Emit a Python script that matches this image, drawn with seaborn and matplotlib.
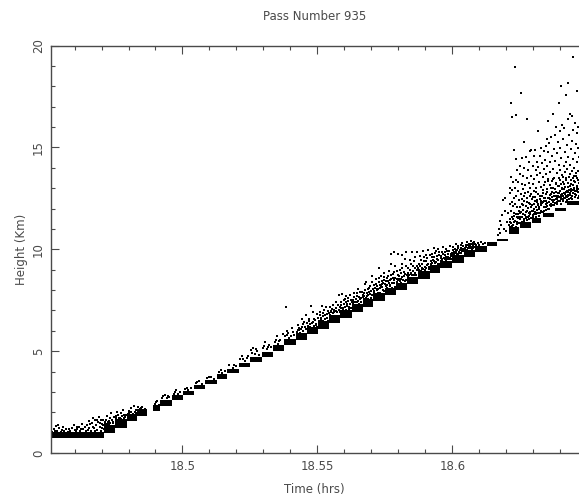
# Pass 935 height vs time
import numpy as np
import pandas as pd
import matplotlib
matplotlib.use('Agg')
import matplotlib.pyplot as plt
import seaborn as sns
from matplotlib.ticker import MultipleLocator, FixedLocator

# times below are hours minus 18
# step plateaus: start, end, lowest height, highest height
step_start = [.451,.4709,.4750,.4794,.4831,.4890,.4916,.4961,.5002,.5042,.5083,.5128,.5165,.5209,.5250,.5294,.5335,.5376,.5420,.5461,.5502,.5542,.5583,.5628,.5668,.5705,.5750,.5791,.5831,.5872,.5917,.5954,.5998,.6043,.6083,.6128,.6165,.6209,.6250,.6294,.6335,.6380,.6424]
step_end = [.4709,.4750,.4794,.4831,.4868,.4916,.4961,.5002,.5042,.5083,.5128,.5165,.5209,.5250,.5294,.5335,.5376,.5420,.5461,.5502,.5542,.5583,.5628,.5668,.5705,.5750,.5791,.5831,.5872,.5917,.5954,.5998,.6043,.6083,.6128,.6165,.6205,.6245,.6290,.6330,.6375,.6420,.6469]
step_low = [.72,1.0,1.25,1.55,1.82,2.04,2.33,2.62,2.87,3.12,3.4,3.65,3.95,4.2,4.48,4.72,5.0,5.28,5.55,5.84,6.09,6.38,6.63,6.92,7.17,7.45,7.74,8.0,8.28,8.54,8.83,9.08,9.33,9.62,9.87,10.18,10.42,10.76,11.05,11.3,11.6,11.86,12.18]
step_high = [1.02,1.36,1.68,1.9,2.14,2.36,2.62,2.85,3.06,3.34,3.6,3.88,4.13,4.42,4.72,4.98,5.28,5.6,5.9,6.2,6.5,6.78,7.02,7.3,7.56,7.84,8.12,8.36,8.64,8.94,9.22,9.42,9.7,9.95,10.16,10.36,10.52,11.08,11.34,11.54,11.78,12.04,12.38]

low_points = [(.4518,1.05),(.4525,1.2),(.4531,1.32),(.4536,1.1),(.4542,1.24),(.4549,1.05),(.4553,1.15),(.4561,1.08),(.4568,1.18),(.4574,1.05),(.4585,1.1),(.4592,1.22),(.4598,1.38),(.4604,1.09),(.4611,1.18),(.4617,1.3),(.4622,1.06),(.4629,1.42),(.4633,1.2),(.4641,1.1),(.4646,1.36),(.4652,1.55),(.4655,1.25),(.4661,1.08),(.4664,1.46),(.4668,1.7),(.4672,1.22),(.4677,1.62),(.4681,1.35),(.4684,1.12),(.4688,1.5),(.4691,1.75),(.4694,1.28),(.4698,1.08),(.4702,1.44),(.4705,1.64),(.4708,1.2),(.4712,1.4),(.4716,1.6),(.4719,1.82),(.4723,1.5),(.4727,1.4),(.4731,1.7),(.4736,1.95),(.4741,1.52),(.4746,1.78),(.4752,1.7),(.4757,2.02),(.4762,1.85),(.4768,1.74),(.4773,1.95),(.4778,2.1),(.4785,1.7),(.4791,1.88),(.4798,1.9),(.4803,2.05),(.4808,2.2),(.4814,1.86),(.4819,2.3),(.4824,2.0),(.4829,2.12),(.4838,2.12),(.4846,2.2),(.4853,2.12),(.4898,2.42),(.4906,2.55),(.4912,2.36),(.4925,2.7),(.4934,2.85),(.4942,2.68),(.4951,2.75),(.4968,2.92),(.4975,3.1),(.4983,2.9),(.4992,3.0),(.5011,3.12),(.5022,3.08),(.5031,3.2),(.5051,3.42),(.5063,3.55),(.5072,3.4),(.5092,3.66),(.5105,3.75),(.5118,3.64),(.5136,4.0),(.5148,3.95),(.5156,4.02),(.5173,4.3),(.5186,4.18),(.5198,4.25),(.5214,4.62),(.5221,4.78),(.5233,4.5),(.5242,4.75),(.5255,5.05),(.5262,5.15),(.5268,4.85),(.5275,5.0),(.5283,4.8),(.5299,5.15),(.5306,5.45),(.5314,5.1),(.5322,5.32),(.5328,5.2),(.5342,5.45),(.5349,5.72),(.5355,5.35),(.5363,5.55),(.5371,5.82),(.5382,7.15),(.5381,5.75),(.5388,6.0),(.5396,5.65),(.5404,6.15),(.5413,5.8)]

low_extra = [(.4527,1.08),(.4539,1.35),(.4557,1.26),(.4579,1.2),(.4601,1.15),(.4609,1.3),(.4625,1.18),(.4637,1.3),(.4649,1.15),(.4658,1.42),(.4667,1.28),(.4675,1.1),(.4683,1.6),(.4693,1.45),(.4697,1.6),(.4701,1.25),(.4706,1.35),(.4714,1.5),(.4721,1.42),(.4729,1.55),(.4733,1.46),(.4739,1.62),(.4744,1.45),(.4755,1.8),(.4765,1.72),(.4771,1.66),(.4776,1.8),(.4783,1.88),(.4788,1.75),(.4801,1.95),(.4811,2.02),(.4817,1.92),(.4826,1.94),(.4835,2.25),(.4841,2.18),(.4851,2.25),(.4862,2.18),(.4901,2.48),(.4929,2.78),(.4947,2.8),(.4972,3.0),(.5016,3.2),(.5055,3.5),(.5098,3.72),(.5141,4.05),(.5192,4.32),(.5226,4.6),(.5238,4.68),(.5259,4.92),(.5271,5.1),(.5303,5.25),(.5318,5.22),(.5346,5.55),(.5359,5.48),(.5386,5.78),(.5392,5.9),(.5402,5.75),(.5409,5.95)]

band_points = [(.5424,5.95),(.5428,6.3),(.5433,6.05),(.5437,5.9),(.5441,6.6),(.5444,6.2),(.5448,6.0),(.5452,6.45),(.5456,6.75),(.5458,6.1),(.5465,6.25),(.5469,6.6),(.5472,6.2),(.5476,7.2),(.5479,6.4),(.5482,6.9),(.5486,6.25),(.5489,6.6),(.5493,6.35),(.5497,6.8),(.5499,6.2),(.5505,6.5),(.5508,6.9),(.5512,6.55),(.5516,7.2),(.5519,6.7),(.5522,6.48),(.5526,7.0),(.5529,6.6),(.5533,7.15),(.5537,6.8),(.5540,6.5),(.5545,6.75),(.5548,7.15),(.5551,6.9),(.5554,6.55),(.5558,7.25),(.5561,7.0),(.5564,6.72),(.5567,7.4),(.5570,6.95),(.5573,6.65),(.5577,7.25),(.5580,7.75),(.5583,6.9),(.5586,7.1),(.5589,7.4),(.5592,7.8),(.5595,7.05),(.5598,7.3),(.5601,7.55),(.5604,7.0),(.5607,7.7),(.5610,7.2),(.5613,7.45),(.5616,7.05),(.5619,7.3),(.5622,7.75),(.5625,7.1),(.5631,7.3),(.5634,7.65),(.5637,7.85),(.5640,7.4),(.5643,7.25),(.5646,7.7),(.5649,8.05),(.5652,7.45),(.5655,7.3),(.5658,7.9),(.5661,7.6),(.5664,7.25),(.5667,7.75),(.5671,7.55),(.5674,7.85),(.5677,8.3),(.5680,7.5),(.5680,8.37),(.5683,7.7),(.5686,8.05),(.5689,7.55),(.5692,7.9),(.5695,8.2),(.5698,7.6),(.5702,8.68),(.5702,7.75),(.5708,7.9),(.5711,8.25),(.5714,7.8),(.5717,8.55),(.5720,8.05),(.5723,7.85),(.5727,9.07),(.5727,8.4),(.5730,8.1),(.5733,7.85),(.5736,8.7),(.5739,8.3),(.5742,8.0),(.5745,8.5),(.5748,8.85),(.5748,7.95),(.5753,8.2),(.5756,8.6),(.5759,8.1),(.5762,8.45),(.5765,8.95),(.5768,8.25),(.5771,9.3),(.5773,9.75),(.5774,8.55),(.5777,8.1),(.5780,8.8),(.5783,8.35),(.5785,9.85),(.5786,8.15),(.5789,9.2),(.5794,8.4),(.5797,8.75),(.5797,9.76),(.5800,8.3),(.5803,8.55),(.5806,9.0),(.5809,8.35),(.5812,9.3),(.5815,8.65),(.5815,9.7),(.5818,8.3),(.5821,8.9),(.5824,9.5),(.5827,8.5),(.5829,8.25),(.5829,9.85),(.5834,8.65),(.5837,9.1),(.5840,8.6),(.5843,9.45),(.5846,8.85),(.5849,9.85),(.5852,8.6),(.5855,9.2),(.5858,8.75),(.5861,9.6),(.5864,8.55),(.5867,9.0),(.5870,9.85),(.5875,8.9),(.5878,9.3),(.5881,9.65),(.5884,8.95),(.5887,9.1),(.5890,9.9),(.5893,8.9),(.5896,9.4),(.5899,9.0),(.5902,9.7),(.5905,9.25),(.5908,8.9),(.5911,9.95),(.5914,9.15),(.5921,9.3),(.5924,9.6),(.5927,9.2),(.5930,10.05),(.5933,9.4),(.5936,9.8),(.5939,9.15),(.5942,9.5),(.5945,10.0),(.5948,9.3),(.5951,9.7),(.5957,9.4),(.5960,9.85),(.5963,9.5),(.5966,10.1),(.5969,9.35),(.5972,9.7),(.5975,10.0),(.5978,9.45),(.5981,9.9),(.5984,9.6),(.5987,9.35),(.5990,10.15),(.5993,9.75),(.5996,9.5),(.6001,9.7),(.6004,10.1),(.6007,9.85),(.6010,9.65),(.6013,10.25),(.6016,9.95),(.6019,9.7),(.6022,10.15),(.6025,9.8),(.6028,9.65),(.6031,10.05),(.6034,10.3),(.6037,9.9),(.6040,10.15),(.6046,9.95),(.6049,10.2),(.6052,9.9),(.6055,10.35),(.6058,10.05),(.6061,10.25),(.6064,9.9),(.6067,10.15),(.6070,10.4),(.6073,10.0),(.6076,10.3),(.6079,10.1),(.6082,10.25),(.6088,10.2),(.6094,10.3),(.6100,10.2),(.6107,10.35),(.6114,10.25),(.6122,10.3)]

# second pass along the band, filling the thick part just over the steps
band_extra = [(.5427,6.02),(.5431,6.14),(.5439,6.1),(.5446,6.33),(.5454,6.2),(.5463,6.4),(.5467,6.5),(.5474,6.33),(.5484,6.45),(.5491,6.52),(.5495,6.28),(.5503,6.63),(.5510,6.75),(.5514,6.62),(.5521,6.85),(.5528,6.78),(.5535,6.63),(.5539,6.95),(.5544,6.88),(.5549,6.97),(.5553,7.05),(.5559,6.86),(.5563,6.93),(.5569,7.1),(.5574,6.9),(.5578,7.02),(.5584,7.18),(.5588,7.24),(.5593,7.13),(.5597,7.5),(.5603,7.17),(.5606,7.42),(.5611,7.33),(.5615,7.6),(.5618,7.18),(.5623,7.5),(.5629,7.4),(.5633,7.52),(.5636,7.42),(.5641,7.58),(.5645,7.4),(.5648,7.85),(.5653,7.65),(.5656,7.55),(.5662,7.42),(.5665,7.9),(.5669,7.66),(.5673,7.7),(.5676,8.0),(.5679,7.62),(.5684,7.85),(.5687,7.74),(.5691,8.1),(.5694,7.8),(.5699,7.95),(.5703,8.4),(.5707,8.05),(.5710,7.96),(.5713,8.12),(.5716,8.3),(.5719,8.0),(.5722,8.2),(.5725,8.05),(.5729,8.6),(.5732,8.25),(.5735,8.18),(.5738,8.45),(.5741,8.15),(.5744,8.32),(.5747,8.62),(.5752,8.3),(.5755,8.44),(.5758,8.24),(.5761,8.7),(.5764,8.36),(.5767,8.5),(.5770,8.22),(.5772,8.75),(.5776,8.32),(.5779,8.58),(.5782,8.48),(.5784,8.9),(.5788,8.6),(.5793,8.52),(.5796,8.92),(.5799,8.47),(.5802,8.7),(.5805,8.44),(.5808,8.82),(.5811,8.55),(.5814,9.1),(.5817,8.47),(.5820,8.68),(.5823,8.78),(.5826,8.43),(.5828,9.2),(.5833,8.74),(.5836,8.85),(.5839,8.72),(.5842,9.0),(.5845,8.78),(.5848,9.3),(.5851,8.73),(.5854,8.95),(.5857,9.4),(.5860,8.85),(.5863,9.1),(.5866,8.72),(.5869,9.2),(.5874,9.08),(.5877,8.99),(.5880,9.2),(.5883,9.45),(.5886,9.05),(.5889,9.3),(.5892,9.02),(.5895,9.6),(.5898,9.15),(.5901,9.42),(.5904,9.08),(.5907,9.55),(.5910,9.3),(.5913,9.02),(.5916,9.7),(.5920,9.4),(.5923,9.32),(.5926,9.75),(.5929,9.48),(.5932,9.6),(.5935,9.33),(.5938,9.9),(.5941,9.38),(.5944,9.65),(.5947,9.46),(.5950,9.85),(.5953,9.3),(.5956,9.55),(.5959,9.65),(.5962,9.44),(.5965,9.75),(.5968,9.58),(.5971,9.5),(.5974,9.85),(.5977,9.62),(.5980,9.5),(.5983,9.78),(.5986,9.5),(.5989,9.92),(.5992,9.58),(.5995,9.66),(.6000,9.82),(.6003,9.95),(.6006,9.76),(.6009,10.0),(.6012,9.8),(.6015,9.9),(.6018,9.78),(.6021,10.05),(.6024,9.88),(.6027,9.96),(.6030,9.83),(.6033,10.2),(.6036,9.95),(.6039,10.02),(.6042,9.9),(.6045,10.08),(.6048,10.0),(.6051,10.12),(.6054,9.98),(.6057,10.22),(.6060,10.08),(.6063,10.16),(.6066,10.05),(.6069,10.28),(.6072,10.12),(.6075,10.2),(.6078,10.05),(.6081,10.35)]

# cloud above the steps after 18.615
cloud_points = [(.6168,10.7),(.6172,11.0),(.6175,11.4),(.6178,10.8),(.6181,11.2),(.6184,11.7),(.6187,12.4),(.6190,11.0),(.6193,11.9),(.6196,12.5),(.6199,10.9),(.6203,11.35),(.6207,11.8),(.6210,11.2),(.6212,12.2),(.6213,13.0),(.6214,11.5),(.6215,12.75),(.6216,17.2),(.6217,11.9),(.6217,13.55),(.6219,16.5),(.6219,12.3),(.6220,11.15),(.6222,12.9),(.6222,11.6),(.6224,13.3),(.6225,12.1),(.6226,11.2),(.6228,14.85),(.6228,12.5),(.6229,11.8),(.6231,18.93),(.6231,13.0),(.6232,11.4),(.6233,12.2),(.6235,14.45),(.6235,11.75),(.6236,13.4),(.6237,16.6),(.6237,12.6),(.6239,11.25),(.6240,12.05),(.6241,13.9),(.6242,11.55),(.6243,12.85),(.6244,13.3),(.6245,11.3),(.6247,11.9),(.6248,12.4),(.6249,13.7),(.6250,14.1),(.6252,11.5),(.6253,12.7),(.6254,17.65),(.6254,11.85),(.6256,13.2),(.6257,12.2),(.6258,14.5),(.6259,11.6),(.6260,12.95),(.6261,11.95),(.6263,13.6),(.6264,12.35),(.6265,15.25),(.6265,11.5),(.6266,14.0),(.6268,12.75),(.6269,11.7),(.6270,13.15),(.6271,12.1),(.6272,14.55),(.6274,11.55),(.6275,13.5),(.6276,12.5),(.6277,16.4),(.6277,11.9),(.6279,13.9),(.6280,12.8),(.6281,11.6),(.6282,14.3),(.6283,12.25),(.6284,13.25),(.6286,11.75),(.6287,12.6),(.6288,14.8),(.6289,13.0),(.6290,11.55),(.6291,14.85),(.6292,12.05),(.6293,13.6),(.6295,11.9),(.6296,12.45),(.6297,14.1),(.6298,13.2),(.6299,11.7),(.6301,12.85),(.6302,14.6),(.6303,12.2),(.6304,13.45),(.6305,11.85),(.6306,14.85),(.6307,12.55),(.6309,13.9),(.6310,11.75),(.6311,13.0),(.6312,14.3),(.6313,12.3),(.6314,11.95),(.6315,13.65),(.6316,15.8),(.6317,12.7),(.6318,14.05),(.6320,12.0),(.6321,13.3),(.6322,11.8),(.6323,14.6),(.6324,12.45),(.6325,13.75),(.6327,12.15),(.6328,14.95),(.6329,11.9),(.6330,13.05),(.6331,12.6),(.6332,14.25),(.6333,12.25),(.6335,13.55),(.6336,11.85),(.6337,12.9),(.6338,14.8),(.6339,12.35),(.6340,13.95),(.6342,12.05),(.6343,13.3),(.6344,14.4),(.6345,12.7),(.6346,11.95),(.6347,15.05),(.6348,13.7),(.6349,15.4),(.6350,12.25),(.6351,14.1),(.6352,12.95),(.6353,16.3),(.6354,12.0),(.6355,13.45),(.6356,14.75),(.6358,12.5),(.6359,15.2),(.6360,13.15),(.6361,12.15),(.6362,14.3),(.6363,13.8),(.6365,12.7),(.6366,12.1),(.6367,15.5),(.6368,13.35),(.6369,14.6),(.6370,12.4),(.6371,16.65),(.6372,13.0),(.6373,12.15),(.6374,13.95),(.6376,14.9),(.6377,12.6),(.6378,13.5),(.6379,15.6),(.6380,12.25),(.6381,14.35),(.6382,13.2),(.6384,12.8),(.6385,16.0),(.6386,12.3),(.6387,13.75),(.6388,14.7),(.6389,12.55),(.6390,13.1),(.6391,15.25),(.6392,12.35),(.6394,14.15),(.6395,17.2),(.6395,13.5),(.6396,12.75),(.6397,15.8),(.6398,12.35),(.6399,13.9),(.6400,14.95),(.6402,18.0),(.6402,13.2),(.6403,12.55),(.6404,14.5),(.6405,12.95),(.6406,16.1),(.6407,13.65),(.6408,12.45),(.6410,15.4),(.6411,13.3),(.6412,14.1),(.6413,12.75),(.6414,15.95),(.6415,12.5),(.6416,13.8),(.6417,14.75),(.6418,13.05),(.6420,12.6),(.6421,17.55),(.6421,14.3),(.6422,13.5),(.6423,15.1),(.6425,12.85),(.6426,13.95),(.6427,16.4),(.6428,18.14),(.6428,12.6),(.6429,14.55),(.6430,13.25),(.6431,15.6),(.6433,12.9),(.6434,13.7),(.6435,16.65),(.6436,14.15),(.6437,12.65),(.6438,14.9),(.6439,13.4),(.6440,12.95),(.6442,15.3),(.6443,13.85),(.6444,16.55),(.6445,12.75),(.6446,19.46),(.6446,14.45),(.6447,13.15),(.6448,15.85),(.6449,13.6),(.6451,12.9),(.6452,14.0),(.6453,16.2),(.6454,13.3),(.6455,14.7),(.6456,12.85),(.6457,15.15),(.6458,13.75),(.6460,17.75),(.6460,13.05),(.6461,14.3),(.6462,15.7),(.6463,13.5),(.6464,12.95),(.6465,14.95),(.6466,13.85),(.6467,16.0),(.6468,13.25),(.6468,14.55)]

# dots bunched low inside the cloud
cloud_dense = [(.6212,11.1),(.6218,11.3),(.6221,11.05),(.6227,11.35),(.6234,11.1),(.6238,11.6),(.6241,11.35),(.6246,11.6),(.6251,11.3),(.6255,11.6),(.6258,11.35),(.6262,11.75),(.6267,11.4),(.6273,11.6),(.6278,11.45),(.6282,11.8),(.6285,11.5),(.6289,11.85),(.6294,11.55),(.6298,11.9),(.6300,11.6),(.6304,12.0),(.6308,11.6),(.6313,11.8),(.6316,12.15),(.6319,11.65),(.6322,12.05),(.6326,11.8),(.6329,12.25),(.6333,11.85),(.6337,12.3),(.6340,11.9),(.6341,12.5),(.6345,12.05),(.6348,12.35),(.6352,12.1),(.6355,12.5),(.6357,12.0),(.6361,12.65),(.6364,12.2),(.6368,12.55),(.6372,12.3),(.6375,12.75),(.6378,12.15),(.6383,12.45),(.6387,12.2),(.6390,12.6),(.6393,12.35),(.6397,12.85),(.6401,12.45),(.6404,12.2),(.6407,12.7),(.6409,12.35),(.6413,12.95),(.6416,12.5),(.6419,12.3),(.6422,12.8),(.6426,12.4),(.6429,12.65),(.6432,12.45),(.6435,13.1),(.6438,12.5),(.6441,12.85),(.6444,12.45),(.6447,12.75),(.6450,13.0),(.6453,12.55),(.6456,13.3),(.6459,12.65),(.6462,12.95),(.6465,12.5),(.6467,12.8)]

cloud_extra = [(.6214,11.32),(.6223,11.48),(.6230,11.62),(.6243,11.72),(.6249,12.05),(.6251,11.78),(.6256,12.45),(.6262,12.15),(.6266,12.62),(.6271,11.85),(.6275,12.3),(.6279,12.02),(.6283,11.62),(.6288,12.2),(.6291,12.72),(.6295,12.18),(.6300,12.55),(.6303,11.72),(.6306,12.35),(.6309,12.08),(.6311,12.82),(.6315,12.42),(.6318,12.22),(.6323,12.62),(.6327,13.05),(.6330,12.38),(.6334,12.75),(.6338,12.05),(.6341,13.15),(.6344,12.52),(.6347,12.2),(.6351,12.82),(.6354,13.35),(.6358,12.3),(.6360,12.68),(.6363,12.45),(.6366,13.02),(.6369,12.8),(.6373,13.45),(.6376,12.42),(.6379,12.95),(.6382,12.62),(.6385,13.25),(.6388,12.45),(.6391,12.78),(.6394,13.12),(.6396,12.55),(.6399,13.42),(.6402,12.68),(.6406,13.0),(.6408,13.55),(.6411,12.62),(.6414,13.18),(.6417,12.72),(.6420,13.4),(.6423,12.55),(.6427,13.05),(.6430,12.82),(.6433,13.55),(.6436,12.75),(.6439,13.2),(.6442,12.6),(.6445,13.48),(.6448,12.9),(.6451,13.35),(.6454,12.7),(.6457,13.58),(.6460,12.85),(.6463,13.12),(.6466,13.42),(.6468,12.62)]

x_major = [18.5, 18.55, 18.6]
x_labels = ['18.5', '18.55', '18.6']
y_major = [0, 5, 10, 15, 20]

all_points = low_points + low_extra + band_points + band_extra + cloud_points + cloud_dense + cloud_extra
df = pd.DataFrame(all_points, columns=['offset', 'height'])
df['time'] = 18 + df['offset']

sns.set_style('ticks')
plt.rcParams['font.family'] = ['DejaVu Sans']
ink = '#4a4a4a'

fig = plt.figure(figsize=(5.79, 4.97), dpi=100)
ax = fig.add_axes([50.5/579, 1-453/497, 1-50.5/579, (453-45.5)/497])

# solid plateaus where the dots merge together
ax.bar(18 + np.array(step_start), np.array(step_high)-np.array(step_low),
       width=np.array(step_end)-np.array(step_start), bottom=step_low,
       align='edge', color='black', linewidth=0)
sns.scatterplot(data=df, x='time', y='height', ax=ax, s=2.6, marker='s',
                color='black', linewidth=0, legend=False)

ax.set_xlim(18.4511, 18.6469)
ax.set_ylim(0, 20)
ax.xaxis.set_major_locator(FixedLocator(x_major))
ax.set_xticklabels(x_labels)
ax.xaxis.set_minor_locator(MultipleLocator(0.01))
ax.set_yticks(y_major)
ax.yaxis.set_minor_locator(MultipleLocator(1))
ax.tick_params(which='major', direction='in', length=6, width=0.8, color=ink,
               top=True, right=False, labelsize=8.5, labelcolor=ink)
ax.tick_params(axis='x', which='major', pad=5)
ax.tick_params(axis='y', which='major', pad=4)
ax.tick_params(which='minor', direction='in', length=3, width=0.8, color=ink,
               top=True, right=False)
for lab in ax.get_yticklabels():
    lab.set_rotation(90)
    lab.set_va('center')
for s in ax.spines.values():
    s.set_color(ink)
    s.set_linewidth(1.0)
ax.spines['right'].set_visible(False)

ax.set_xlabel('Time (hrs)', fontsize=8.5, color=ink, labelpad=7)
ax.set_ylabel('Height (Km)', fontsize=8.5, color=ink, labelpad=3)
ax.set_title('Pass Number 935', fontsize=8.5, color=ink, pad=18.5)

fig.savefig('out.png', dpi=100)
